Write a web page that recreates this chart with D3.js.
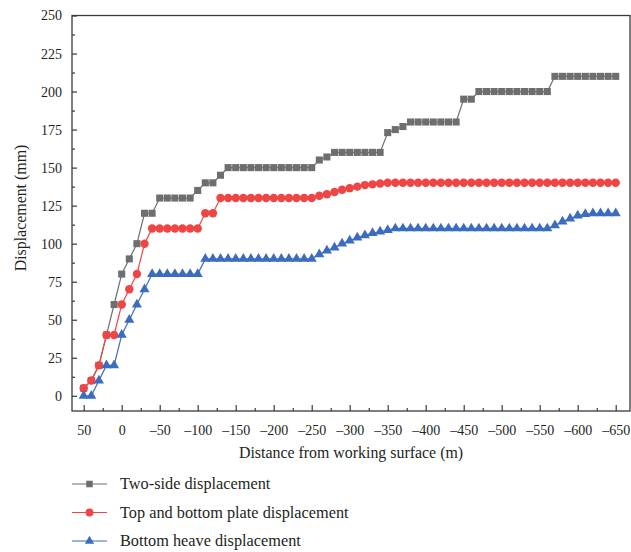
<!DOCTYPE html>
<html>
<head>
<meta charset="utf-8">
<script src="https://cdn.jsdelivr.net/npm/d3@7"></script>
<style>
  html, body { margin: 0; padding: 0; background: #fff; }
  svg { display: block; }
  text { font-family: "Liberation Serif", "DejaVu Serif", serif; fill: #231f20; }
</style>
</head>
<body>
<svg id="chart" width="631" height="552"></svg>
<script>
// distance from working surface (m), one reading every 10 m
const distances = [
  50, 40, 30, 20, 10, 0, -10, -20, -30, -40,
  -50, -60, -70, -80, -90, -100, -110, -120, -130, -140,
  -150, -160, -170, -180, -190, -200, -210, -220, -230, -240,
  -250, -260, -270, -280, -290, -300, -310, -320, -330, -340,
  -350, -360, -370, -380, -390, -400, -410, -420, -430, -440,
  -450, -460, -470, -480, -490, -500, -510, -520, -530, -540,
  -550, -560, -570, -580, -590, -600, -610, -620, -630, -640,
  -650
];

const twoSide = [
  5, 10, 20, 40, 60, 80, 90, 100, 120, 120,
  130, 130, 130, 130, 130, 135, 140, 140, 145, 150,
  150, 150, 150, 150, 150, 150, 150, 150, 150, 150,
  150, 155, 157, 160, 160, 160, 160, 160, 160, 160,
  173, 175, 177, 180, 180, 180, 180, 180, 180, 180,
  195, 195, 200, 200, 200, 200, 200, 200, 200, 200,
  200, 200, 210, 210, 210, 210, 210, 210, 210, 210,
  210
];

const topBottom = [
  5, 10, 20, 40, 40, 60, 70, 80, 100, 110,
  110, 110, 110, 110, 110, 110, 120, 120, 130, 130,
  130, 130, 130, 130, 130, 130, 130, 130, 130, 130,
  130, 131.5, 132.5, 134, 135.5, 136.5, 137.5, 138.5, 139, 139.5,
  140, 140, 140, 140, 140, 140, 140, 140, 140, 140,
  140, 140, 140, 140, 140, 140, 140, 140, 140, 140,
  140, 140, 140, 140, 140, 140, 140, 140, 140, 140,
  140
];

const bottomHeave = [
  0, 0, 10, 20, 20, 40, 50, 60, 70, 80,
  80, 80, 80, 80, 80, 80, 90, 90, 90, 90,
  90, 90, 90, 90, 90, 90, 90, 90, 90, 90,
  90, 93, 95.5, 97.5, 100, 102, 104, 105.5, 107, 108,
  109, 110, 110, 110, 110, 110, 110, 110, 110, 110,
  110, 110, 110, 110, 110, 110, 110, 110, 110, 110,
  110, 110, 112, 114.5, 116.5, 118.5, 119.5, 120, 120, 120,
  120
];

const xTicks = [50, 0, -50, -100, -150, -200, -250, -300, -350, -400, -450, -500, -550, -600, -650];
const yTicks = [0, 25, 50, 75, 100, 125, 150, 175, 200, 225, 250];

const seriesNames = ['Two-side displacement', 'Top and bottom plate displacement', 'Bottom heave displacement'];
const seriesValues = [twoSide, topBottom, bottomHeave];
const seriesColors = ['#6d6e70', '#ef4545', '#3b6cbf'];
const seriesSymbols = [d3.symbolSquare, d3.symbolCircle, d3.symbolTriangle];
const symbolSizes = [50, 56, 44];

const plot = { left: 72, right: 630, top: 15.5, bottom: 411 };
const axisColor = '#3a3a3a';

const svg = d3.select('#chart');

const xScale = d3.scaleLinear().domain([65.4, -668.8]).range([plot.left, plot.right]);
const yScale = d3.scaleLinear().domain([-10, 250]).range([plot.bottom, plot.top]);

const fmt = d => d < 0 ? '\u2013' + Math.abs(d) : String(d);

// minor ticks first, majors on top
const xMinor = d3.axisBottom(xScale).tickValues(xTicks.slice(0, -1).map(d => d - 25)).tickSizeInner(-3).tickSizeOuter(0).tickFormat('');
const yMinor = d3.axisLeft(yScale).tickValues(yTicks.slice(0, -1).map(d => d + 12.5)).tickSizeInner(-3).tickSizeOuter(0).tickFormat('');

svg.append('g').attr('transform', `translate(0,${plot.bottom})`).call(xMinor);
svg.append('g').attr('transform', `translate(${plot.left},0)`).call(yMinor);

const xAxis = d3.axisBottom(xScale).tickValues(xTicks).tickSizeInner(-6).tickSizeOuter(0).tickPadding(14).tickFormat(fmt);
const yAxis = d3.axisLeft(yScale).tickValues(yTicks).tickSizeInner(-5).tickSizeOuter(0).tickPadding(10).tickFormat(fmt);

svg.append('g').attr('transform', `translate(0,${plot.bottom})`).call(xAxis);
svg.append('g').attr('transform', `translate(${plot.left},0)`).call(yAxis);

svg.selectAll('.domain').remove();
svg.selectAll('.tick line').attr('stroke', axisColor).attr('stroke-width', 1.2);
svg.selectAll('.tick text').attr('font-size', 14).attr('font-family', '"Liberation Serif", serif').attr('fill', '#231f20');

// frame
svg.append('rect')
  .attr('x', plot.left)
  .attr('y', plot.top)
  .attr('width', plot.right - plot.left)
  .attr('height', plot.bottom - plot.top)
  .attr('fill', 'none')
  .attr('stroke', axisColor)
  .attr('stroke-width', 1.3);

// axis titles
svg.append('text')
  .attr('x', 351)
  .attr('y', 458)
  .attr('text-anchor', 'middle')
  .attr('font-size', 15.9)
  .text('Distance from working surface (m)');

svg.append('text')
  .attr('transform', 'translate(26,208) rotate(-90)')
  .attr('text-anchor', 'middle')
  .attr('font-size', 15.9)
  .text('Displacement (mm)');

// series
const line = d3.line()
  .x((d, i) => xScale(distances[i]))
  .y(d => yScale(d));

seriesValues.forEach((values, s) => {
  const g = svg.append('g').attr('class', 'series-' + s);

  g.append('path')
    .datum(values)
    .attr('fill', 'none')
    .attr('stroke', seriesColors[s])
    .attr('stroke-width', 1.2)
    .attr('d', line);

  g.selectAll('path.marker')
    .data(values)
    .join('path')
      .attr('class', 'marker')
      .attr('transform', (d, i) => `translate(${xScale(distances[i])},${yScale(d)})`)
      .attr('d', d3.symbol().type(seriesSymbols[s]).size(symbolSizes[s]))
      .attr('fill', seriesColors[s]);
});

// legend
const legendY = [484, 512.5, 541];
const legend = svg.append('g').attr('class', 'legend');

seriesNames.forEach((name, s) => {
  const row = legend.append('g').attr('transform', `translate(72,${legendY[s]})`);
  row.append('line')
    .attr('x1', 0).attr('x2', 35)
    .attr('y1', 0).attr('y2', 0)
    .attr('stroke', seriesColors[s])
    .attr('stroke-width', 1.2);
  row.append('path')
    .attr('transform', 'translate(17.5,0)')
    .attr('d', d3.symbol().type(seriesSymbols[s]).size(symbolSizes[s] * 0.85))
    .attr('fill', seriesColors[s]);
  row.append('text')
    .attr('x', 48)
    .attr('y', 0)
    .attr('dy', '0.32em')
    .attr('font-size', 16.3)
    .text(name);
});
</script>
</body>
</html>
